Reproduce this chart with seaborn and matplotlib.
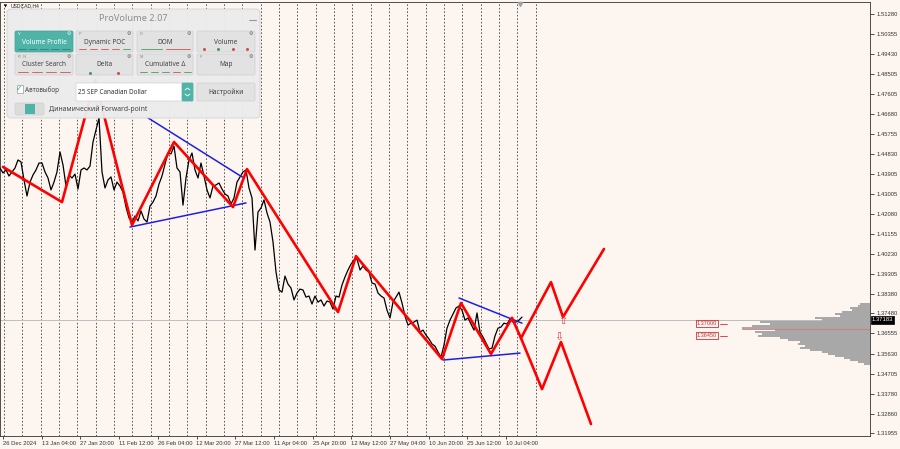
import numpy as np
import matplotlib
matplotlib.use("Agg")
import matplotlib.pyplot as plt
import matplotlib.transforms as mtransforms
from matplotlib.patches import FancyBboxPatch, Rectangle
import seaborn as sns

# USDCAD H4 close, one value every 3 bars
close = [
    1.4418, 1.4395, 1.4409, 1.4381, 1.4400, 1.4418, 1.4455, 1.4446, 1.4363, 1.4289,
    1.4353, 1.4386, 1.4409, 1.4441, 1.4441, 1.4400, 1.4372, 1.4317, 1.4353, 1.4400,
    1.4492, 1.4432, 1.4335, 1.4386, 1.4372, 1.4390, 1.4321, 1.4409, 1.4418, 1.4409,
    1.4427, 1.4538, 1.4593, 1.4649, 1.4400, 1.4326, 1.4363, 1.4377, 1.4317, 1.4353,
    1.4335, 1.4307, 1.4238, 1.4188, 1.4169, 1.4197, 1.4174, 1.4220, 1.4183, 1.4169,
    1.4243, 1.4261, 1.4289, 1.4344, 1.4381, 1.4436, 1.4487, 1.4483, 1.4519, 1.4418,
    1.4400, 1.4247, 1.4372, 1.4455, 1.4487, 1.4409, 1.4372, 1.4441, 1.4381, 1.4317,
    1.4280, 1.4335, 1.4340, 1.4349, 1.4321, 1.4298, 1.4289, 1.4252, 1.4280, 1.4353,
    1.4377, 1.4400, 1.4409, 1.4326, 1.4280, 1.4040, 1.4215, 1.4234, 1.4271, 1.4211,
    1.4169, 1.4077, 1.3939, 1.3856, 1.3846, 1.3920, 1.3883, 1.3865, 1.3810, 1.3842,
    1.3860, 1.3856, 1.3823, 1.3828, 1.3791, 1.3828, 1.3800, 1.3810, 1.3782, 1.3805,
    1.3800, 1.3768, 1.3828, 1.3823, 1.3879, 1.3916, 1.3948, 1.3975, 1.3994, 1.3999,
    1.3948, 1.3966, 1.3948, 1.3939, 1.3888, 1.3883, 1.3842, 1.3828, 1.3819, 1.3763,
    1.3727, 1.3800, 1.3823, 1.3846, 1.3796, 1.3736, 1.3694, 1.3703, 1.3708, 1.3717,
    1.3662, 1.3671, 1.3648, 1.3630, 1.3607, 1.3597, 1.3570, 1.3547, 1.3602, 1.3680,
    1.3717, 1.3745, 1.3773, 1.3782, 1.3763, 1.3717, 1.3727, 1.3699, 1.3671, 1.3750,
    1.3662, 1.3639, 1.3611, 1.3584, 1.3588, 1.3644, 1.3680, 1.3685, 1.3703, 1.3699,
    1.3722, 1.3708, 1.3708, 1.3717, 1.3731,
]
bar_step = 3

# zigzag swings (bar, price)
zz_bar = [3, 62, 95, 132, 174, 233, 247, 338, 356, 442, 461, 491, 512]
zz_price = [1.4423, 1.4261, 1.4824, 1.4155, 1.4538, 1.4238, 1.4413,
            1.3754, 1.4012, 1.3538, 1.3796, 1.3561, 1.3727]

# forecast scenarios
up_bar = [512, 521, 551, 563, 604]
up_price = [1.3727, 1.3634, 1.3892, 1.3731, 1.4045]
dn_bar = [521, 542, 561, 591]
dn_price = [1.3634, 1.3399, 1.3616, 1.3238]

# triangle borders
tri_bar0 = [148, 130, 459, 443]
tri_p0 = [1.4649, 1.4146, 1.3819, 1.3533]
tri_bar1 = [242, 246, 522, 520]
tri_p1 = [1.4377, 1.4257, 1.3703, 1.3565]

# volume profile
prof_price = [1.3791, 1.3782, 1.3773, 1.3763, 1.3754, 1.3745, 1.3736, 1.3727,
              1.3717, 1.3708, 1.3699, 1.3690, 1.3680, 1.3671, 1.3662, 1.3653,
              1.3644, 1.3634, 1.3625, 1.3616, 1.3607, 1.3597, 1.3588, 1.3579,
              1.3570, 1.3561, 1.3551, 1.3542, 1.3533, 1.3524, 1.3515]
prof_vol = [10, 12, 20, 18, 28, 35, 30, 55, 48, 110, 100, 118, 128, 95, 115, 108,
            112, 90, 82, 70, 72, 65, 70, 60, 48, 42, 35, 26, 20, 12, 6]
poc_price = 1.3676
levels = [1.37000, 1.36450]
price_now = 1.37183

yticks = [1.51280, 1.50355, 1.49430, 1.48505, 1.47605, 1.46680, 1.45755,
          1.44830, 1.43905, 1.43005, 1.42080, 1.41155, 1.40230, 1.39305,
          1.38380, 1.37480, 1.36555, 1.35630, 1.34705, 1.33780, 1.32860,
          1.31955]
time_labels = ["26 Dec 2024", "13 Jan 04:00", "27 Jan 20:00", "11 Feb 12:00",
               "26 Feb 04:00", "12 Mar 20:00", "27 Mar 12:00", "11 Apr 04:00",
               "25 Apr 20:00", "12 May 12:00", "27 May 04:00", "10 Jun 20:00",
               "25 Jun 12:00", "10 Jul 04:00"]

BG = "#fdf6f0"
sns.set_theme(style="white", rc={"figure.facecolor": BG, "axes.facecolor": BG})
plt.rcParams["font.family"] = ["Liberation Sans", "DejaVu Sans"]

fig = plt.figure(figsize=(9, 4.49), dpi=100)
ax = fig.add_axes([0.0, 13 / 449, 870 / 900, 434 / 449])
ax.set_xlim(0, 870)
ax.set_ylim(1.3183, 1.5183)

# grid separators
for k in range(30):
    ax.axvline(4 + 18.33 * k, color="#444444", lw=0.6, ls=(0, (2, 2.2)), zorder=0)

ax.axhline(price_now, color="#bdbdbd", lw=0.7, zorder=1)

# volume profile
ax.barh(prof_price, prof_vol, left=[870 - v for v in prof_vol], height=0.00093,
        color="#a8a8a8", lw=0, zorder=1)
ax.plot([742, 870], [poc_price, poc_price], color="#d97474", lw=0.6, zorder=2)
for lv in levels:
    ax.text(707, lv, f"{lv:.5f}", fontsize=4, color="#c23030", ha="center", va="center",
            bbox=dict(boxstyle="square,pad=0.15", fc=BG, ec="#d03030", lw=0.6), zorder=3)
    ax.plot([720, 727], [lv, lv], color="#d03030", lw=0.6, zorder=3)

bars = np.arange(len(close)) * bar_step
sns.lineplot(x=bars, y=close, color="black", lw=0.9, sort=False, estimator=None,
             ax=ax, zorder=3)

for b0, p0, b1, p1 in zip(tri_bar0, tri_p0, tri_bar1, tri_p1):
    ax.plot([b0, b1], [p0, p1], color="#1f1fe0", lw=1.1, zorder=4)

sns.lineplot(x=zz_bar, y=zz_price, color="#ff0000", lw=1.9, sort=False, estimator=None,
             ax=ax, zorder=5)
sns.lineplot(x=up_bar, y=up_price, color="#ff0000", lw=1.9, sort=False, estimator=None,
             ax=ax, zorder=5)
sns.lineplot(x=dn_bar, y=dn_price, color="#ff0000", lw=1.9, sort=False, estimator=None,
             ax=ax, zorder=5)
ax.text(563, 1.3713, "⇧", color="#e04040", fontsize=8, ha="center", va="center",
        family="DejaVu Sans", zorder=6)
ax.text(559, 1.3640, "⇩", color="#e04040", fontsize=8, ha="center", va="center",
        family="DejaVu Sans", zorder=6)

# axes cosmetics
for s in ax.spines.values():
    s.set_color("#333333")
    s.set_linewidth(0.6)
ax.yaxis.tick_right()
ax.set_yticks(yticks, [f"{t:.5f}" for t in yticks])
ax.set_xticks([3 + 38.7 * i for i in range(len(time_labels))], time_labels, ha="left")
ax.tick_params(axis="y", length=3, width=0.6, labelsize=4.2, pad=1.5, colors="#333333",
               direction="out", right=True)
ax.tick_params(axis="x", length=2, width=0.6, labelsize=4.2, pad=1.5, colors="#333333",
               direction="out", bottom=True)
ax.set_xlabel("")
ax.set_ylabel("")
trans = mtransforms.blended_transform_factory(ax.transAxes, ax.transData)
ax.text(1.002, price_now, f"{price_now:.5f}", transform=trans, fontsize=4.2,
        color="white", ha="left", va="center", clip_on=False, zorder=10,
        bbox=dict(boxstyle="square,pad=0.2", fc="black", ec="black", lw=0.5))

# overlay in pixel coordinates for chart widgets
ov = fig.add_axes([0, 0, 1, 1])
ov.set_xlim(0, 900)
ov.set_ylim(449, 0)
ov.axis("off")
ov.patch.set_alpha(0)

ov.text(4, 6, "▼", fontsize=3, color="black", ha="left", va="center", family="DejaVu Sans")
ov.text(11, 6, "USDCAD,H4", fontsize=3.6, color="#222222", ha="left", va="center")
ov.plot(520, 3.5, marker="v", ms=3, color="#a0a0a0")


def rbox(x0, y0, x1, y1, fc, ec, r=1.5, lw=0.5, alpha=1.0, z=2):
    ov.add_patch(FancyBboxPatch((x0, y0), x1 - x0, y1 - y0,
                                boxstyle=f"round,pad=0,rounding_size={r}",
                                fc=fc, ec=ec, lw=lw, alpha=alpha, zorder=z))


# ProVolume panel
rbox(7, 9, 260, 118, "#ececec", "#d2d2d2", r=4, lw=0.6, alpha=0.96, z=1)
ov.text(133, 18.5, "ProVolume 2.07", fontsize=6.6, color="#8c8c8c", ha="center",
        va="center", family=["Noto Sans", "DejaVu Sans"])
ov.plot([249, 256], [20, 20], color="#9a9a9a", lw=0.8)

buttons = [("Volume Profile", 15, 31, 73, 52), ("Dynamic POC", 76, 31, 133, 52),
           ("DOM", 137, 31, 193, 52), ("Volume", 197, 31, 255, 52),
           ("Cluster Search", 15, 54, 73, 75), ("Delta", 76, 54, 133, 75),
           ("Cumulative Δ", 137, 54, 193, 75), ("Map", 197, 54, 255, 75)]
tags = {"Volume Profile": "V", "Dynamic POC": "P", "DOM": "D",
        "Cluster Search": "R  N", "Cumulative Δ": "M", "Map": "F"}
for i, (name, x0, y0, x1, y1) in enumerate(buttons):
    active = i == 0
    rbox(x0, y0, x1, y1, "#4fb3a8" if active else "#e2e2e2",
         "#45a097" if active else "#d0d0d0", r=1.5, z=2)
    ov.text((x0 + x1) / 2, y0 + 11, name, fontsize=4.7, ha="center", va="center",
            color="white" if active else "#444444", zorder=3,
            family=["Noto Sans", "DejaVu Sans"])
    ov.text(x1 - 4.5, y0 + 2.8, "⚙", fontsize=3.4, ha="center", va="center",
            color="#ffffff" if active else "#555555", family="DejaVu Sans", zorder=3)
    if name in tags:
        ov.text(x0 + 3, y0 + 2.8, tags[name], fontsize=2.8, ha="left", va="center",
                color="#ffffff" if active else "#888888", zorder=3)

# small state marks under buttons
for j in range(5):
    ov.plot([18 + 11 * j, 26 + 11 * j], [48.5, 48.5], color="#2f7f77", lw=0.6, zorder=3)
for j, c in enumerate(["#d05050", "#d05050", "#d05050", "#d05050", "#4a9a5a"]):
    ov.plot([79 + 11 * j, 86 + 11 * j], [48.5, 48.5], color=c, lw=0.6, zorder=3)
ov.plot([141, 162], [49, 49], color="#4a9a5a", lw=0.6, zorder=3)
ov.plot([166, 190], [49, 49], color="#d05050", lw=0.6, zorder=3)
for xd, c in zip([204, 218, 233, 247], ["#d05050", "#4a9a5a", "#d05050", "#d05050"]):
    ov.plot(xd, 49, "o", ms=1.2, color=c, zorder=3)
for j in range(4):
    ov.plot([18 + 14 * j, 28 + 14 * j], [72, 72], color="#d05050", lw=0.6, zorder=3)
ov.plot(90, 72.5, "o", ms=1.2, color="#4a9a5a", zorder=3)
ov.plot(118, 72.5, "o", ms=1.2, color="#d05050", zorder=3)
for j, c in enumerate(["#4a9a5a", "#4a9a5a", "#4a9a5a", "#d05050", "#4a9a5a"]):
    ov.plot([140 + 11 * j, 147 + 11 * j], [72, 72], color=c, lw=0.6, zorder=3)

# auto-select row
ov.add_patch(Rectangle((16.5, 85), 6.5, 7.5, fc="white", ec="#9a9a9a", lw=0.5, zorder=3))
ov.text(19.5, 88, "✓", fontsize=5.5, color="#3aa89c", ha="center", va="center",
        family="DejaVu Sans", zorder=4)
ov.text(25, 90, "Автовыбор", fontsize=4.6, color="#444444", ha="left", va="center",
        family=["Noto Sans", "DejaVu Sans"])
rbox(76, 83, 193, 101, "white", "#d0d0d0", r=1, z=2)
ov.text(78, 92, "25 SEP Canadian Dollar", fontsize=4.6, color="#333333", ha="left",
        va="center", family=["Noto Sans", "DejaVu Sans"], zorder=3)
rbox(182, 83, 193, 101, "#4fb3a8", "#4fb3a8", r=1, z=3)
ov.plot([185, 187.5, 190], [90, 88, 90], color="white", lw=0.6, zorder=4)
ov.plot([185, 187.5, 190], [94, 96, 94], color="white", lw=0.6, zorder=4)
rbox(197, 83, 255, 101, "#e2e2e2", "#d0d0d0", r=1.5, z=2)
ov.text(226, 92, "Настройки", fontsize=4.8, color="#444444", ha="center", va="center",
        family=["Noto Sans", "DejaVu Sans"], zorder=3)

# forward-point toggle
rbox(15, 103, 44, 115, "#dcdcdc", "#cfcfcf", r=2, z=2)
ov.add_patch(Rectangle((25, 104), 10, 10, fc="#4fb3a8", ec="none", zorder=3))
ov.text(49, 109, "Динамический Forward-point", fontsize=4.9, color="#444444",
        ha="left", va="center", family=["Noto Sans", "DejaVu Sans"])

fig.savefig("out.png", dpi=100, facecolor=BG)
